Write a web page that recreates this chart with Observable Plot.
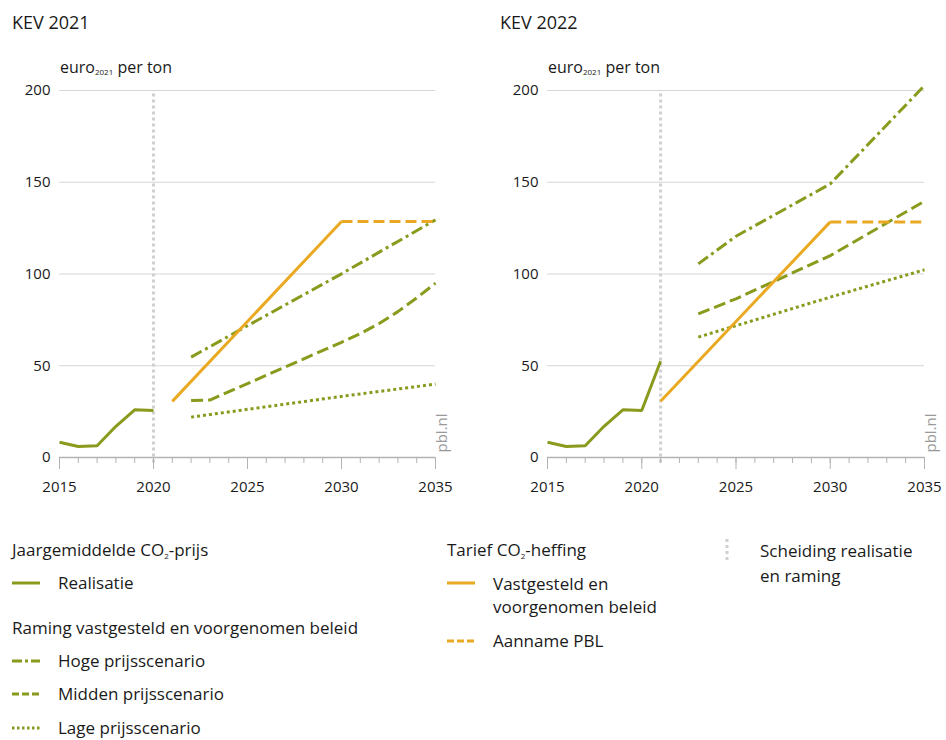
<!DOCTYPE html>
<html>
<head>
<meta charset="utf-8">
<script src="https://cdn.jsdelivr.net/npm/d3@7"></script>
<script src="https://cdn.jsdelivr.net/npm/@observablehq/plot@0.6"></script>
<style>
  html, body { margin: 0; padding: 0; background: #fff; }
  body { width: 946px; height: 740px; position: relative; overflow: hidden; font-family: "Open Sans", sans-serif; color: #1a1a1a; }
  .abs { position: absolute; white-space: nowrap; }
  .title { font-size: 18px; line-height: 24px; }
  .unit { font-size: 16px; line-height: 20px; }
  .unit sub { font-size: 8px; vertical-align: -2px; }
  .leg { font-size: 17px; line-height: 20px; }
  .leg sub { font-size: 8px; vertical-align: -3px; }
  .panel { position: absolute; top: 50px; }
</style>
</head>
<body>
<div class="abs title" style="left:12px; top:10px;">KEV 2021</div>
<div class="abs title" style="left:500px; top:10px;">KEV 2022</div>
<div class="abs unit" style="left:60px; top:57px;">euro<sub>2021</sub> per ton</div>
<div class="abs unit" style="left:548px; top:57px;">euro<sub>2021</sub> per ton</div>
<div id="left" class="panel" style="left:0px;"></div>
<div id="right" class="panel" style="left:488px;"></div>
<div id="legend"></div>
<script>
// ---- tick labels ----
const majorYears = [2015, 2020, 2025, 2030, 2035];
const allYears = d3.range(2015, 2036);
const yTicks = [0, 50, 100, 150, 200];

// ---- KEV 2021 ----
const kev21RealYears = [2015, 2016, 2017, 2018, 2019, 2020];
const kev21Real = [8.3, 6.0, 6.4, 17.0, 26.0, 25.6];
const kev21HeffingYears = [2021, 2030];
const kev21Heffing = [30.6, 128.6];
const kev21AannameYears = [2030, 2035];
const kev21Aanname = [128.6, 128.6];
const kev21HoogYears = [2022, 2025, 2030, 2035];
const kev21Hoog = [54.7, 71.8, 100.1, 129.5];
const kev21MiddenYears = [2022, 2023, 2030, 2031, 2032, 2033, 2034, 2035];
const kev21Midden = [31.0, 31.3, 62.8, 67.5, 73.0, 79.5, 87.0, 95.0];
const kev21LaagYears = [2022, 2030, 2035];
const kev21Laag = [22.0, 33.3, 40.0];
const kev21Scheiding = 2020;

// ---- KEV 2022 ----
const kev22RealYears = [2015, 2016, 2017, 2018, 2019, 2020, 2021];
const kev22Real = [8.3, 6.0, 6.4, 17.0, 26.0, 25.6, 52.5];
const kev22HeffingYears = [2021, 2030];
const kev22Heffing = [30.7, 128.4];
const kev22AannameYears = [2030, 2035];
const kev22Aanname = [128.4, 128.4];
const kev22HoogYears = [2023, 2025, 2030, 2035];
const kev22Hoog = [105.5, 120.6, 149.1, 202.7];
const kev22MiddenYears = [2023, 2025, 2030, 2035];
const kev22Midden = [78.3, 86.5, 110.0, 139.7];
const kev22LaagYears = [2023, 2030, 2035];
const kev22Laag = [65.6, 87.4, 102.3];
const kev22Scheiding = 2021;

const OLIVE = "#8a9a1c";
const ORANGE = "#eaa922";
const pts = (xs, ys) => xs.map((x, i) => ({x, y: ys[i]}));

function panel(p) {
  const lineOpts = (stroke, dash) => ({x: "x", y: "y", stroke, strokeWidth: 3, strokeDasharray: dash, strokeLinecap: "butt", strokeLinejoin: "miter"});
  return Plot.plot({
    width: p.width, height: 460,
    marginTop: 40, marginBottom: 53, marginLeft: 59, marginRight: p.marginRight,
    x: {domain: [2015, 2035]},
    y: {domain: [0, 200]},
    style: {fontFamily: "Open Sans, sans-serif", fontSize: "15px", color: "#1a1a1a", background: "transparent", overflow: "visible"},
    marks: [
      Plot.gridY(yTicks.filter(d => d > 0), {stroke: "#d6d6d6", strokeOpacity: 1, strokeWidth: 1}),
      Plot.axisY(yTicks, {tickSize: 0, tickPadding: 9, label: null, tickFormat: "d", fontSize: 15}),
      Plot.ruleX([p.sep], {y1: -3, y2: 200, stroke: "#d0d0d0", strokeWidth: 3, strokeDasharray: "3,3"}),
      Plot.ruleY([0], {stroke: "#b3b3b3", strokeWidth: 1.5}),
      Plot.axisX(allYears, {tickSize: 6, tickFormat: () => "", stroke: "#b3b3b3", label: null}),
      Plot.axisX(majorYears, {tickSize: 12, tickPadding: 12, tickFormat: "d", stroke: "#b3b3b3", label: null, fontSize: 15}),
      Plot.line(pts(p.laagX, p.laag), lineOpts(OLIVE, "3,3")),
      Plot.line(pts(p.middenX, p.midden), lineOpts(OLIVE, "12,5")),
      Plot.line(pts(p.hoogX, p.hoog), lineOpts(OLIVE, "12,4,3,4")),
      Plot.line(pts(p.aannameX, p.aanname), lineOpts(ORANGE, "11,5")),
      Plot.line(pts(p.heffingX, p.heffing), lineOpts(ORANGE, null)),
      Plot.line(pts(p.realX, p.real), lineOpts(OLIVE, null)),
      Plot.text(["pbl.nl"], {x: () => 2035, y: () => 0, text: d => d, rotate: -90, textAnchor: "start", dx: 7, dy: -5, fill: "#9a9a9a", fontSize: 15})
    ]
  });
}

document.getElementById("left").appendChild(panel({
  width: 470, marginRight: 35, sep: kev21Scheiding,
  realX: kev21RealYears, real: kev21Real,
  heffingX: kev21HeffingYears, heffing: kev21Heffing,
  aannameX: kev21AannameYears, aanname: kev21Aanname,
  hoogX: kev21HoogYears, hoog: kev21Hoog,
  middenX: kev21MiddenYears, midden: kev21Midden,
  laagX: kev21LaagYears, laag: kev21Laag
}));
document.getElementById("right").appendChild(panel({
  width: 458, marginRight: 22, sep: kev22Scheiding,
  realX: kev22RealYears, real: kev22Real,
  heffingX: kev22HeffingYears, heffing: kev22Heffing,
  aannameX: kev22AannameYears, aanname: kev22Aanname,
  hoogX: kev22HoogYears, hoog: kev22Hoog,
  middenX: kev22MiddenYears, midden: kev22Midden,
  laagX: kev22LaagYears, laag: kev22Laag
}));

// ---- legend ----
const legendItems = [
  {x: 12, cy: 550, html: "Jaargemiddelde CO<sub>2</sub>-prijs"},
  {x: 12, cy: 583, sw: {color: OLIVE, dash: null}, html: "Realisatie"},
  {x: 12, cy: 628, html: "Raming vastgesteld en voorgenomen beleid"},
  {x: 12, cy: 661, sw: {color: OLIVE, dash: "10,3,3,3"}, html: "Hoge prijsscenario"},
  {x: 12, cy: 694, sw: {color: OLIVE, dash: "7,3"}, html: "Midden prijsscenario"},
  {x: 12, cy: 728, sw: {color: OLIVE, dash: "2.5,2.5"}, html: "Lage prijsscenario"},
  {x: 447, cy: 550, html: "Tarief CO<sub>2</sub>-heffing"},
  {x: 447, cy: 583, sw: {color: ORANGE, dash: null}, html: "Vastgesteld en<br>voorgenomen beleid"},
  {x: 447, cy: 641, sw: {color: ORANGE, dash: "7,3"}, html: "Aanname PBL"},
  {x: 727, cy: 550, vsw: true, html: "Scheiding realisatie<br>en raming", tx: 760}
];
const leg = document.getElementById("legend");
for (const it of legendItems) {
  const hasSw = it.sw || it.vsw;
  const tx = it.tx ?? (hasSw ? it.x + 46 : it.x);
  const d = document.createElement("div");
  d.className = "abs leg";
  d.style.left = tx + "px";
  d.style.top = (it.cy - 10) + "px";
  d.style.lineHeight = it.html.includes("<br>") ? (it.vsw ? "25px" : "23px") : "20px";
  if (it.html.includes("<br>")) d.style.top = (it.cy - (it.vsw ? 12.5 : 11.5)) + "px";
  d.innerHTML = it.html;
  leg.appendChild(d);
  if (it.sw) {
    const s = d3.create("svg").attr("width", 28).attr("height", 6)
      .style("position", "absolute").style("left", it.x + "px").style("top", (it.cy - 3) + "px");
    s.append("line").attr("x1", 0).attr("x2", 28).attr("y1", 3).attr("y2", 3)
      .attr("stroke", it.sw.color).attr("stroke-width", 3).attr("stroke-dasharray", it.sw.dash);
    leg.appendChild(s.node());
  }
  if (it.vsw) {
    const s = d3.create("svg").attr("width", 6).attr("height", 24)
      .style("position", "absolute").style("left", (it.x - 3) + "px").style("top", (it.cy - 11) + "px");
    s.append("line").attr("x1", 3).attr("x2", 3).attr("y1", 0).attr("y2", 24)
      .attr("stroke", "#d0d0d0").attr("stroke-width", 3).attr("stroke-dasharray", "3,3");
    leg.appendChild(s.node());
  }
}
</script>
</body>
</html>
